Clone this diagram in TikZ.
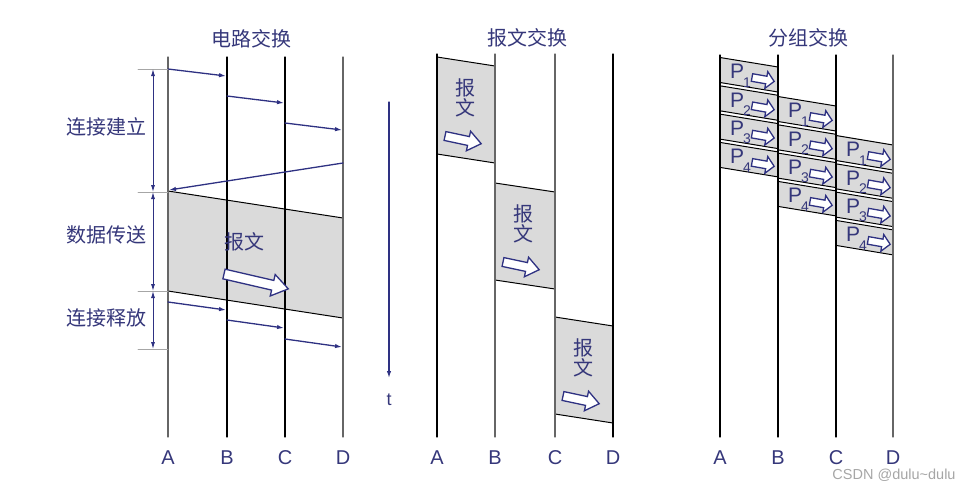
\documentclass[tikz,border=0pt]{standalone}
\usepackage{fontspec}
\setmainfont{Liberation Sans}
\newfontfamily\cjk{Noto Sans CJK SC}
\usetikzlibrary{arrows.meta,positioning}
\definecolor{ink}{HTML}{35377A}
\definecolor{arrowblue}{HTML}{2E3182}
\definecolor{msgfill}{HTML}{DADADA}
\tikzset{
  timeline/.style={line width=1.2pt},
  signal/.style={arrowblue,line width=1.3pt,-{Latex[length=7pt,width=4.5pt]}},
  span/.style={arrowblue,line width=0.9pt,{Latex[length=7pt,width=4pt]}-{Latex[length=7pt,width=4pt]}},
  tick/.style={gray!70,line width=0.9pt},
  edge/.style={black,line width=1pt},
  hollow/.style={draw=arrowblue,fill=white,line width=1.3pt,line join=miter},
  title/.style={font=\cjk\fontsize{20}{20}\selectfont,text=ink,inner sep=0pt},
  cjklabel/.style={font=\cjk\fontsize{20}{20}\selectfont,text=ink,inner sep=0pt},
  stationlabel/.style={font=\fontsize{20}{20}\selectfont,text=ink,inner sep=0pt},
  pktlabel/.style={font=\fontsize{21}{21}\selectfont,text=ink,inner sep=0pt},
  sublabel/.style={font=\fontsize{14}{14}\selectfont,text=ink,inner sep=0pt},
  every picture/.style={line cap=round,line join=round}
}
% tail point, angle, length, head length, head half width
\newcommand\hollowarrow[5]{%
  \draw[hollow,shift={#1},rotate=#2] (0,-0.45*#5) -- (#3-#4,-0.45*#5) -- (#3-#4,-#5)
    -- (#3,0) -- (#3-#4,#5) -- (#3-#4,0.45*#5) -- (0,0.45*#5) -- cycle;}

\begin{document}
\begin{tikzpicture}[x=1pt,y=-1pt]
  \useasboundingbox (0,0) rectangle (966,491);
  % circuit switching
  \node[title] (cstitle) at (251,39) {电路交换};
  \fill[msgfill] (168,191) -- (343,218) -- (343,318) -- (168,291) -- cycle;
  \draw[edge] (168,191) -- (343,218);
  \draw[edge] (168,291) -- (343,318);
  \foreach \n/\x/\c in {A/168/gray!80!black,B/227/black,C/285/black,D/343/gray!80!black}{
    \coordinate (cs\n-top) at (\x,57);
    \coordinate (cs\n-bot) at (\x,437);
    \draw[timeline,\c] (cs\n-top) -- (cs\n-bot);
    \node[stationlabel] (cs\n-lab) at (\x,458) {\n};
  }
  \foreach \a/\b/\ya/\yb in {A/B/69/76,B/C/96/103,C/D/123/130,A/B/302/310,B/C/320/328,C/D/339/347}
    \draw[signal] (cs\a-top |- 0,\ya) -- ([xshift=-1pt]cs\b-top |- 0,\yb);
  \draw[signal] (csD-top |- 0,163) -- ([xshift=1pt]csA-top |- 0,190);
  \foreach \y [count=\i] in {69,192,291,349}{
    \coordinate (mark\i) at (138,\y);
    \draw[tick] (mark\i) -- (csA-top |- mark\i);
  }
  \foreach \i/\j in {1/2,2/3,3/4}
    \draw[span] ([xshift=15pt]mark\i) -- ([xshift=15pt]mark\j);
  \node[cjklabel] (setup) at (106,127) {连接建立};
  \node[cjklabel] (transfer) at (106,235) {数据传送};
  \node[cjklabel] (release) at (106,318) {连接释放};
  \node[cjklabel] (csmsg) at (244,242) {报文};
  \hollowarrow{(224,274)}{-13}{66}{16}{11}

  % time axis
  \coordinate (tstart) at (389,102);
  \coordinate (tend) at (389,378);
  \draw[signal] (tstart) -- (tend);
  \node[stationlabel,font=\fontsize{18}{18}\selectfont,below=16pt of tend] (tlab) {t};

  % message switching
  \node[title] (mstitle) at (527,38) {报文交换};
  \foreach \xa/\xb/\y [count=\i] in {437/495/57,495/555/183,555/613/317}{
    \fill[msgfill] (\xa,\y) -- (\xb,\y+9) -- (\xb,\y+106) -- (\xa,\y+97) -- cycle;
    \draw[edge] (\xa,\y) -- (\xb,\y+9);
    \draw[edge] (\xa,\y+97) -- (\xb,\y+106);
    \node[cjklabel] (ms\i-a) at (\xa+28,\y+31) {报};
    \node[cjklabel] (ms\i-b) at (\xa+28,\y+51) {文};
    \hollowarrow{(\xa+8,\y+79)}{-12}{37}{13}{10}
  }
  \foreach \n/\x/\c in {A/437/black,B/495/gray!80!black,C/555/gray!80!black,D/613/black}{
    \coordinate (ms\n-top) at (\x,54);
    \coordinate (ms\n-bot) at (\x,437);
    \draw[timeline,\c] (ms\n-top) -- (ms\n-bot);
    \node[stationlabel] (ms\n-lab) at (\x,458) {\n};
  }

  % packet switching
  \node[title] (pstitle) at (808,38) {分组交换};
  \foreach \xa/\xb/\j in {720/778/0,778/836/1,836/893/2}
    \foreach \k in {1,...,4}{
      \pgfmathsetmacro\y{57.5+39*\j+28.3*(\k-1)}
      \fill[msgfill] (\xa,\y) -- (\xb,\y+9.5) -- (\xb,\y+34.5) -- (\xa,\y+25) -- cycle;
      \draw[edge] (\xa,\y) -- (\xb,\y+9.5);
      \draw[edge] (\xa,\y+25) -- (\xb,\y+34.5);
      \hollowarrow{(\xa+32,\y+20)}{-10}{22.5}{8}{8.5}
      \node[pktlabel] (pk\j\k) at (\xa+17,\y+14) {P};
      \node[sublabel] (pk\j\k-sub) at (\xa+27,\y+25) {\k};
    }
  \foreach \n/\x/\c in {A/720/black,B/778/black,C/836/black,D/893/gray!80!black}{
    \coordinate (ps\n-top) at (\x,55);
    \coordinate (ps\n-bot) at (\x,437);
    \draw[timeline,\c] (ps\n-top) -- (ps\n-bot);
    \node[stationlabel] (ps\n-lab) at (\x,458) {\n};
  }
  \node[font=\fontsize{14.5}{14.5}\selectfont,text=gray!70] (mark) at (894,475) {CSDN @dulu\textasciitilde dulu};
\end{tikzpicture}
\end{document}
